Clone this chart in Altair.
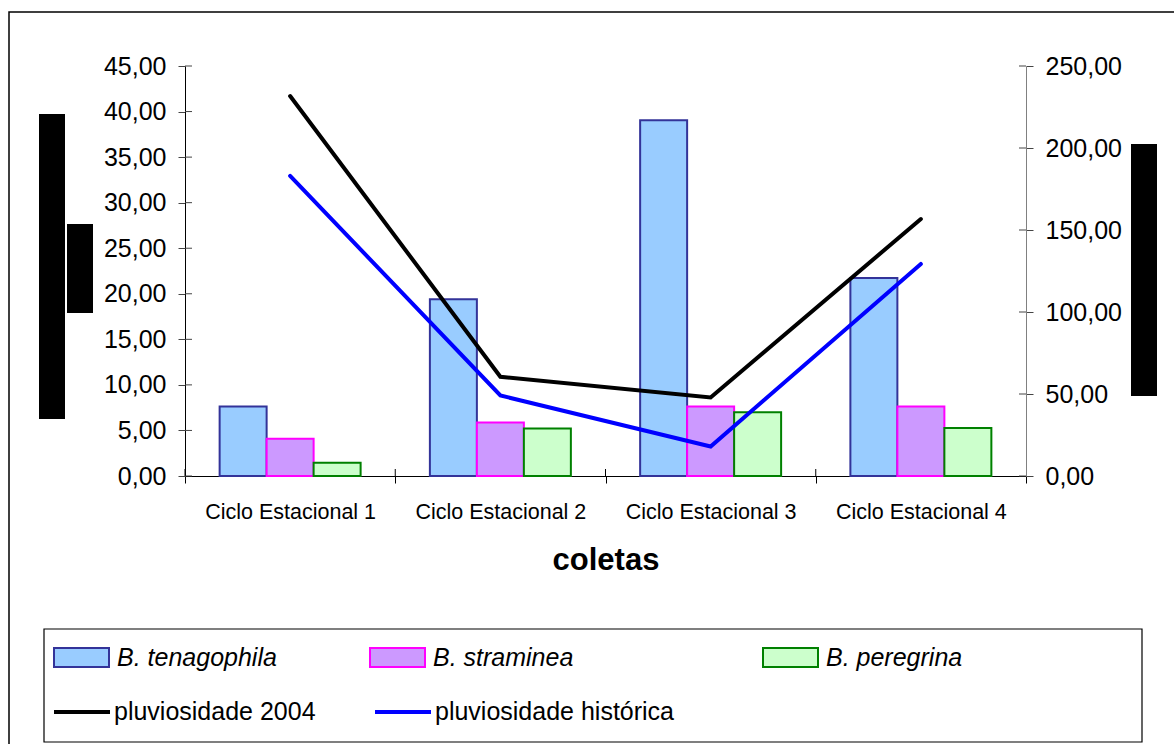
import altair as alt
import pandas as pd

# --- dados ---
ciclos = ["Ciclo Estacional 1", "Ciclo Estacional 2", "Ciclo Estacional 3", "Ciclo Estacional 4"]
especies = ["B. tenagophila", "B. straminea", "B. peregrina"]
tenagophila = [7.63, 19.40, 39.05, 21.73]
straminea = [4.09, 5.87, 7.63, 7.63]
peregrina = [1.46, 5.22, 7.01, 5.26]

series_linhas = ["pluviosidade 2004", "pluviosidade histórica"]
pluv_2004 = [231.7, 60.5, 47.9, 156.7]
pluv_historica = [183.0, 49.1, 18.0, 129.3]

ticks_esq = [0, 5, 10, 15, 20, 25, 30, 35, 40, 45]
ticks_dir = [0, 50, 100, 150, 200, 250]

cores_fill = ["#99CCFF", "#CC99FF", "#CCFFCC"]
cores_borda = ["#333399", "#FF00FF", "#008000"]
cores_linhas = ["#000000", "#0000FF"]

df_barras = pd.DataFrame({
    "ciclo": ciclos * 3,
    "especie": [e for e in especies for _ in ciclos],
    "valor": tenagophila + straminea + peregrina,
})
df_linhas = pd.DataFrame({
    "ciclo": ciclos * 2,
    "serie": [s for s in series_linhas for _ in ciclos],
    "pluv": pluv_2004 + pluv_historica,
})
df_ticks_esq = pd.DataFrame({"v": ticks_esq})
df_ticks_dir = pd.DataFrame({"v": ticks_dir})
df_ciclos = pd.DataFrame({"ciclo": ciclos})
um = pd.DataFrame({"a": [0]})

W, H = 841, 410
FONTE = "Liberation Sans"
fmt_virgula = "replace(format(datum.value, '.2f'), '.', ',')"

eixo_x = alt.Axis(
    tickBand="extent", labelAngle=0, labelFont=FONTE, labelFontSize=21.5,
    labelColor="black", labelPadding=18, labelLimit=300, tickSize=7,
    tickColor="black", domainColor="black", titleFont=FONTE, titleFontSize=31,
    titleFontWeight="bold", titleColor="black", titlePadding=23, grid=False,
)
escala_x = alt.Scale(paddingInner=0, paddingOuter=0)
x_enc = alt.X("ciclo:N", sort=ciclos, title="coletas", scale=escala_x, axis=eixo_x)

escala_esq = alt.Scale(domain=[0, 45], nice=False)
escala_dir = alt.Scale(domain=[0, 250], nice=False)

eixo_esq = alt.Axis(
    orient="left", values=ticks_esq, labelExpr=fmt_virgula, labelFont=FONTE,
    labelFontSize=25, labelColor="black", labelPadding=12, tickSize=7,
    tickColor="#444444", domainColor="black", grid=False, title=None,
)
eixo_dir = alt.Axis(
    orient="right", values=ticks_dir, labelExpr=fmt_virgula, labelFont=FONTE,
    labelFontSize=25, labelColor="black", labelPadding=12, tickSize=7,
    tickColor="#444444", domainColor="#808080", grid=False, title=None,
)


def camada_barra(i, legenda_x, com_eixo):
    nome = especies[i]
    return alt.Chart(df_barras).transform_filter(
        alt.datum.especie == nome
    ).mark_bar(stroke=cores_borda[i], strokeWidth=2).encode(
        x=x_enc,
        xOffset=alt.XOffset(
            "especie:N", sort=especies,
            scale=alt.Scale(domain=especies, paddingInner=0, paddingOuter=0.737),
        ),
        y=alt.Y("valor:Q", scale=escala_esq, axis=eixo_esq if com_eixo else None),
        fill=alt.Fill(
            "especie:N",
            scale=alt.Scale(domain=[nome], range=[cores_fill[i]]),
            legend=alt.Legend(
                orient="none", legendX=legenda_x, legendY=563, title=None,
                symbolType="M-1,-0.345L1,-0.345L1,0.345L-1,0.345Z",
                symbolSize=3025, symbolStrokeColor=cores_borda[i],
                symbolStrokeWidth=2, symbolOpacity=1, labelFont=FONTE,
                labelFontSize=25, labelFontStyle="italic", labelColor="black",
                labelOffset=7, labelLimit=400, padding=0,
            ),
        ),
    )


barras = [
    camada_barra(0, -132, True),
    camada_barra(1, 184, False),
    camada_barra(2, 577, False),
]

linhas = alt.Chart(df_linhas).mark_line(
    strokeWidth=4, strokeCap="round", strokeJoin="miter"
).encode(
    x=x_enc,
    y=alt.Y("pluv:Q", scale=escala_dir, axis=eixo_dir),
    stroke=alt.Stroke(
        "serie:N",
        scale=alt.Scale(domain=series_linhas, range=cores_linhas),
        legend=alt.Legend(
            orient="none", legendX=-133, legendY=616, title=None,
            direction="horizontal", columns=2, columnPadding=51,
            symbolType="stroke", symbolSize=3136, symbolStrokeWidth=4,
            labelFont=FONTE, labelFontSize=25, labelColor="black",
            labelOffset=2, labelLimit=400, padding=0,
        ),
    ),
)

# marcas internas dos eixos (os traços cruzam a linha do eixo)
ticks_int_esq = alt.Chart(df_ticks_esq).mark_rule(color="#444444").encode(
    y=alt.Y("v:Q", scale=escala_esq, axis=None),
    x=alt.value(0), x2=alt.value(7),
)
ticks_int_dir = alt.Chart(df_ticks_dir).mark_rule(color="#444444").encode(
    y=alt.Y("v:Q", scale=escala_dir, axis=None),
    x=alt.value(W - 7), x2=alt.value(W),
)
ticks_int_x = alt.Chart(df_ciclos).mark_rule(color="black").encode(
    x=alt.X("ciclo:N", sort=ciclos, title="coletas", bandPosition=0,
            scale=escala_x, axis=eixo_x),
    y=alt.value(H - 7), y2=alt.value(H),
)

# moldura externa e caixa da legenda
moldura = alt.Chart(um).mark_rect(
    fill="transparent", stroke="black", strokeWidth=1.5
).encode(x=alt.value(-176), x2=alt.value(1100), y=alt.value(-54), y2=alt.value(800))
caixa_legenda = alt.Chart(um).mark_rect(
    fill="white", stroke="black", strokeWidth=1.2
).encode(x=alt.value(-141), x2=alt.value(957), y=alt.value(563), y2=alt.value(676))

# tarjas pretas ao lado dos eixos
tarja1 = alt.Chart(um).mark_rect(color="black").encode(
    x=alt.value(-146), x2=alt.value(-120), y=alt.value(48), y2=alt.value(353))
tarja2 = alt.Chart(um).mark_rect(color="black").encode(
    x=alt.value(-118), x2=alt.value(-92), y=alt.value(158), y2=alt.value(247))
tarja3 = alt.Chart(um).mark_rect(color="black").encode(
    x=alt.value(946), x2=alt.value(972), y=alt.value(78), y2=alt.value(330))

chart = alt.layer(
    moldura, caixa_legenda, tarja1, tarja2, tarja3,
    *barras, linhas, ticks_int_esq, ticks_int_dir, ticks_int_x,
).resolve_scale(
    y="independent", fill="independent"
).properties(
    width=W, height=H,
    padding={"left": 185, "top": 66, "right": 148, "bottom": 268},
    autosize=alt.AutoSizeParams(type="none"),
    background="white",
).configure_view(stroke=None)

chart.save("out.html", embed_options={"renderer": "svg", "actions": False})
